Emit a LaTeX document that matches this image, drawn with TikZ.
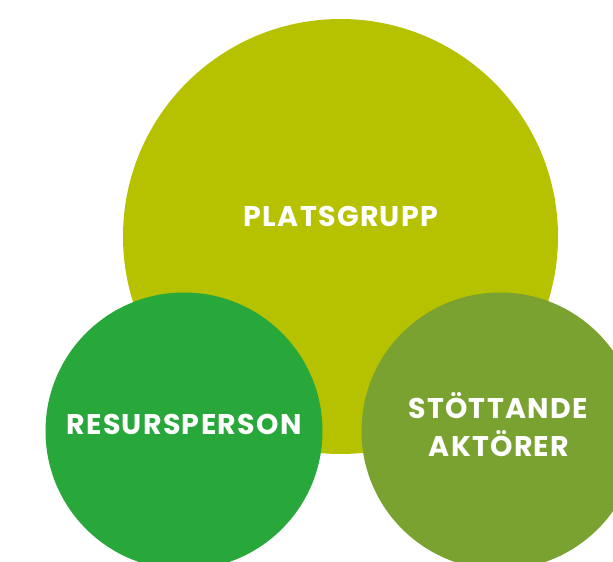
\documentclass[tikz,border=0pt]{standalone}
\usepackage{fontspec}
\setmainfont{Poppins}[LetterSpace=4.5]
\definecolor{cbig}{RGB}{182,194,0}
\definecolor{cleft}{RGB}{40,167,58}
\definecolor{cright}{RGB}{122,162,49}
\begin{document}
\begin{tikzpicture}[x=1pt,y=-1pt,
  disc/.style={circle,inner sep=0pt,minimum size=#1},
  lbl/.style={text=white,font=\fontsize{28.5}{38}\selectfont\bfseries,align=center,inner sep=0pt}]
\useasboundingbox (0,0) rectangle (613,562);
\clip (0,0) rectangle (613,562);
\node[disc=435pt,fill=cbig] (plats) at (340.5,236.5) {};
\node[disc=277pt,fill=cleft] (resurs) at (184,431) {};
\node[disc=277pt,fill=cright] (stod) at (500,431) {};
\node[lbl,anchor=base] (tplats) at (341,226) {PLATSGRUPP};
\node[lbl,anchor=base] (tresurs) at (184,434) {RESURSPERSON};
\node[lbl,anchor=base] (tstod1) at (498,418) {STÖTTANDE};
\node[lbl,anchor=base] (tstod2) at (499,456) {AKTÖRER};
\end{tikzpicture}
\end{document}
